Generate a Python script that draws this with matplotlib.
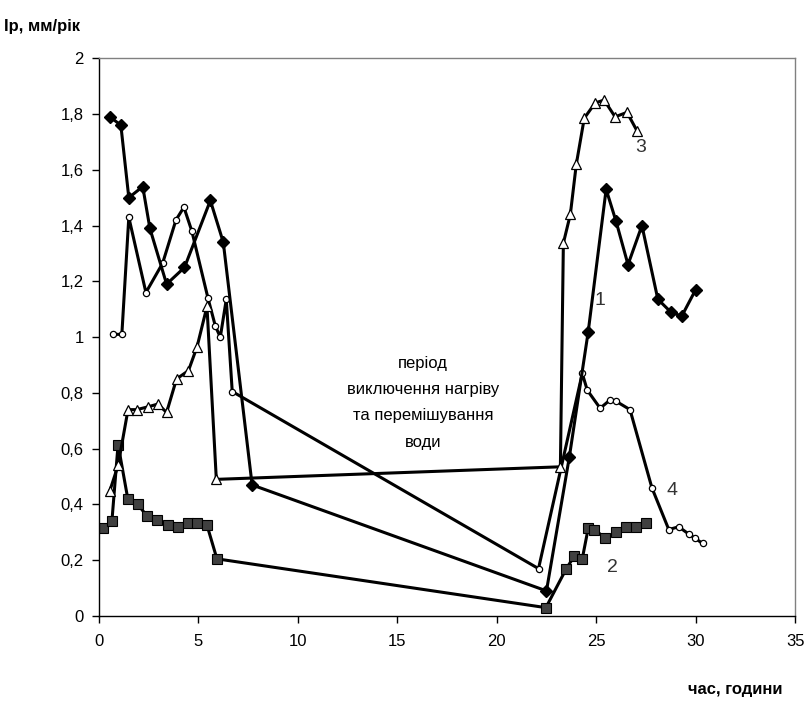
import matplotlib.pyplot as plt

plt.rcParams['font.family'] = ['Liberation Sans', 'DejaVu Sans']

# Series 1 - filled diamonds
x1 = [0.55, 1.1, 1.5, 2.2, 2.56, 3.4, 4.3, 5.6, 6.25, 7.7, 22.5, 23.65, 24.6,
      25.5, 26.0, 26.6, 27.3, 28.1, 28.75, 29.3, 30.0]
y1 = [1.79, 1.76, 1.50, 1.54, 1.39, 1.19, 1.25, 1.49, 1.34, 0.47, 0.09, 0.57, 1.02,
      1.53, 1.415, 1.26, 1.40, 1.136, 1.09, 1.075, 1.17]

# Series 2 - grey squares
x2 = [0.2, 0.65, 0.96, 1.45, 1.95, 2.4, 2.9, 3.47, 3.97, 4.47, 4.93, 5.43, 5.93,
      22.47, 23.5, 23.9, 24.3, 24.6, 24.9, 25.45, 26.0, 26.5, 27.0, 27.5]
y2 = [0.315, 0.34, 0.615, 0.42, 0.40, 0.36, 0.345, 0.327, 0.32, 0.333, 0.333, 0.326, 0.205,
      0.03, 0.17, 0.215, 0.205, 0.315, 0.31, 0.28, 0.30, 0.32, 0.32, 0.333]

# Series 3 - open triangles
x3 = [0.55, 0.96, 1.46, 1.9, 2.46, 2.96, 3.4, 3.9, 4.5, 4.93, 5.43, 5.9,
      23.2, 23.35, 23.7, 24.0, 24.4, 24.95, 25.4, 25.95, 26.55, 27.05]
y3 = [0.45, 0.54, 0.74, 0.74, 0.75, 0.76, 0.73, 0.85, 0.88, 0.965, 1.11, 0.49,
      0.535, 1.337, 1.44, 1.62, 1.785, 1.84, 1.85, 1.79, 1.806, 1.74]

# Series 4 - open circles
x4 = [0.7, 1.15, 1.5, 2.36, 3.2, 3.87, 4.27, 4.67, 5.48, 5.85, 6.1, 6.4, 6.7,
      22.1, 24.3, 24.55, 25.2, 25.7, 26.0, 26.7, 27.8, 28.65, 29.15, 29.65, 29.95, 30.35]
y4 = [1.01, 1.01, 1.43, 1.16, 1.265, 1.42, 1.466, 1.38, 1.14, 1.04, 1.0, 1.135, 0.805,
      0.17, 0.87, 0.81, 0.745, 0.775, 0.77, 0.74, 0.46, 0.31, 0.32, 0.294, 0.28, 0.26]

yticks = [0, 0.2, 0.4, 0.6, 0.8, 1.0, 1.2, 1.4, 1.6, 1.8, 2.0]
ytick_labels = ['0', '0,2', '0,4', '0,6', '0,8', '1', '1,2', '1,4', '1,6', '1,8', '2']
xticks = [0, 5, 10, 15, 20, 25, 30, 35]

fig = plt.figure(figsize=(8.08, 7.02), dpi=100)
ax = fig.add_axes([0.1225, 0.1225, 0.8615, 0.7945])

ax.plot(x2, y2, color='black', lw=2.2, marker='s', ms=6.5, mfc='#404040', mec='black', mew=0.8)
ax.plot(x4, y4, color='black', lw=2.2, marker='o', ms=4.5, mfc='white', mec='black', mew=0.9)
ax.plot(x3, y3, color='black', lw=2.2, marker='^', ms=6.5, mfc='white', mec='black', mew=0.9)
ax.plot(x1, y1, color='black', lw=2.2, marker='D', ms=6, mfc='black', mec='black')

ax.set_xlim(0, 35)
ax.set_ylim(0, 2)
ax.set_xticks(xticks)
ax.set_yticks(yticks)
ax.set_yticklabels(ytick_labels)
ax.tick_params(axis='both', labelsize=12, direction='out', length=5, width=1, colors='black')
ax.tick_params(axis='x', pad=8)
ax.tick_params(axis='y', pad=6)
for s in ['left', 'bottom']:
    ax.spines[s].set_color('black')
    ax.spines[s].set_linewidth(1)
for s in ['top', 'right']:
    ax.spines[s].set_color('#808080')
    ax.spines[s].set_linewidth(1)

ax.text(25.2, 1.13, '1', fontsize=14, color='#333333', ha='center', va='center')
ax.text(25.8, 0.175, '2', fontsize=14, color='#333333', ha='center', va='center')
ax.text(27.25, 1.68, '3', fontsize=14, color='#333333', ha='center', va='center')
ax.text(28.8, 0.45, '4', fontsize=14, color='#333333', ha='center', va='center')

ax.text(16.3, 0.765, 'період\nвиключення нагріву\nта перемішування\nводи',
        fontsize=12, ha='center', va='center', multialignment='center', linespacing=1.95)

fig.text(0.005, 0.962, 'Ip, мм/рік', fontsize=12, fontweight='bold', ha='left', va='center')
fig.text(0.969, 0.018, 'час, години', fontsize=12, fontweight='bold', ha='right', va='center')

fig.savefig('out.png', dpi=100)
